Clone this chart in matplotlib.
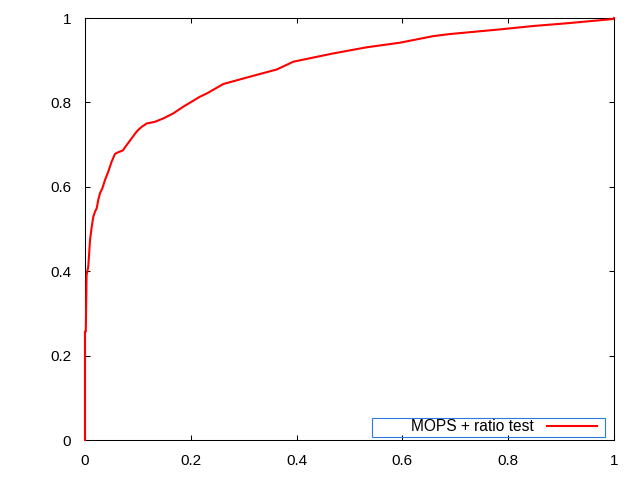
import matplotlib
matplotlib.use("Agg")
import matplotlib.pyplot as plt
from matplotlib.patches import Rectangle

fpr = [0.0, 0.0, 0.0015, 0.0030, 0.0062, 0.0095, 0.0127, 0.0157, 0.0189, 0.0221,
       0.0251, 0.0284, 0.0327, 0.0378, 0.0440, 0.0505, 0.0567, 0.0630, 0.0713,
       0.0788, 0.0883, 0.0977, 0.1070, 0.1166, 0.1320, 0.1480, 0.1670, 0.1860,
       0.2047, 0.2174, 0.2300, 0.2615, 0.3120, 0.3624, 0.3940, 0.4690, 0.5325,
       0.5955, 0.6580, 0.6900, 0.7845, 0.8470, 0.9100, 0.9987, 1.0]
tpr = [0.0, 0.257, 0.257, 0.391, 0.411, 0.474, 0.505, 0.529, 0.541, 0.549,
       0.569, 0.585, 0.596, 0.616, 0.636, 0.660, 0.678, 0.682, 0.686,
       0.699, 0.715, 0.731, 0.742, 0.750, 0.754, 0.762, 0.774, 0.790,
       0.804, 0.8136, 0.821, 0.8436, 0.861, 0.878, 0.8965, 0.916, 0.9306,
       0.9415, 0.957, 0.962, 0.973, 0.981, 0.9874, 0.9976, 1.0]
series_label = "MOPS + ratio test"
ticks = [0, 0.2, 0.4, 0.6, 0.8, 1]
tick_labels = ["0", "0.2", "0.4", "0.6", "0.8", "1"]

plt.rcParams['font.family'] = ['Liberation Sans', 'DejaVu Sans']
plt.rcParams['font.size'] = 11

fig = plt.figure(figsize=(6.4, 4.8), dpi=100)
ax = fig.add_axes([85/640, 40/480, 529/640, 422/480])

ax.plot(fpr, tpr, color='#ff0000', lw=1.5, label=series_label,
        clip_on=False, zorder=4)

ax.set_xlim(0, 1)
ax.set_ylim(0, 1)
ax.set_xticks(ticks)
ax.set_xticklabels(tick_labels)
ax.set_yticks(ticks)
ax.set_yticklabels(tick_labels)
ax.tick_params(direction='in', length=3.5, width=0.75, top=True, right=True,
               labelsize=11, pad=10, colors='black')
for s in ax.spines.values():
    s.set_linewidth(0.75)
    s.set_zorder(2)

leg = ax.legend(loc='center right', bbox_to_anchor=(0.968, 0.031),
                frameon=False, markerfirst=False, handlelength=3.2,
                handletextpad=0.85, borderpad=0, borderaxespad=0,
                fontsize=11.2)
ax.add_patch(Rectangle((0.5425, 0.0071), 0.4405, 0.045, transform=ax.transAxes,
                       fill=False, edgecolor='#2a7ae2', lw=0.8, zorder=5))

fig.savefig("out.png", dpi=100)
